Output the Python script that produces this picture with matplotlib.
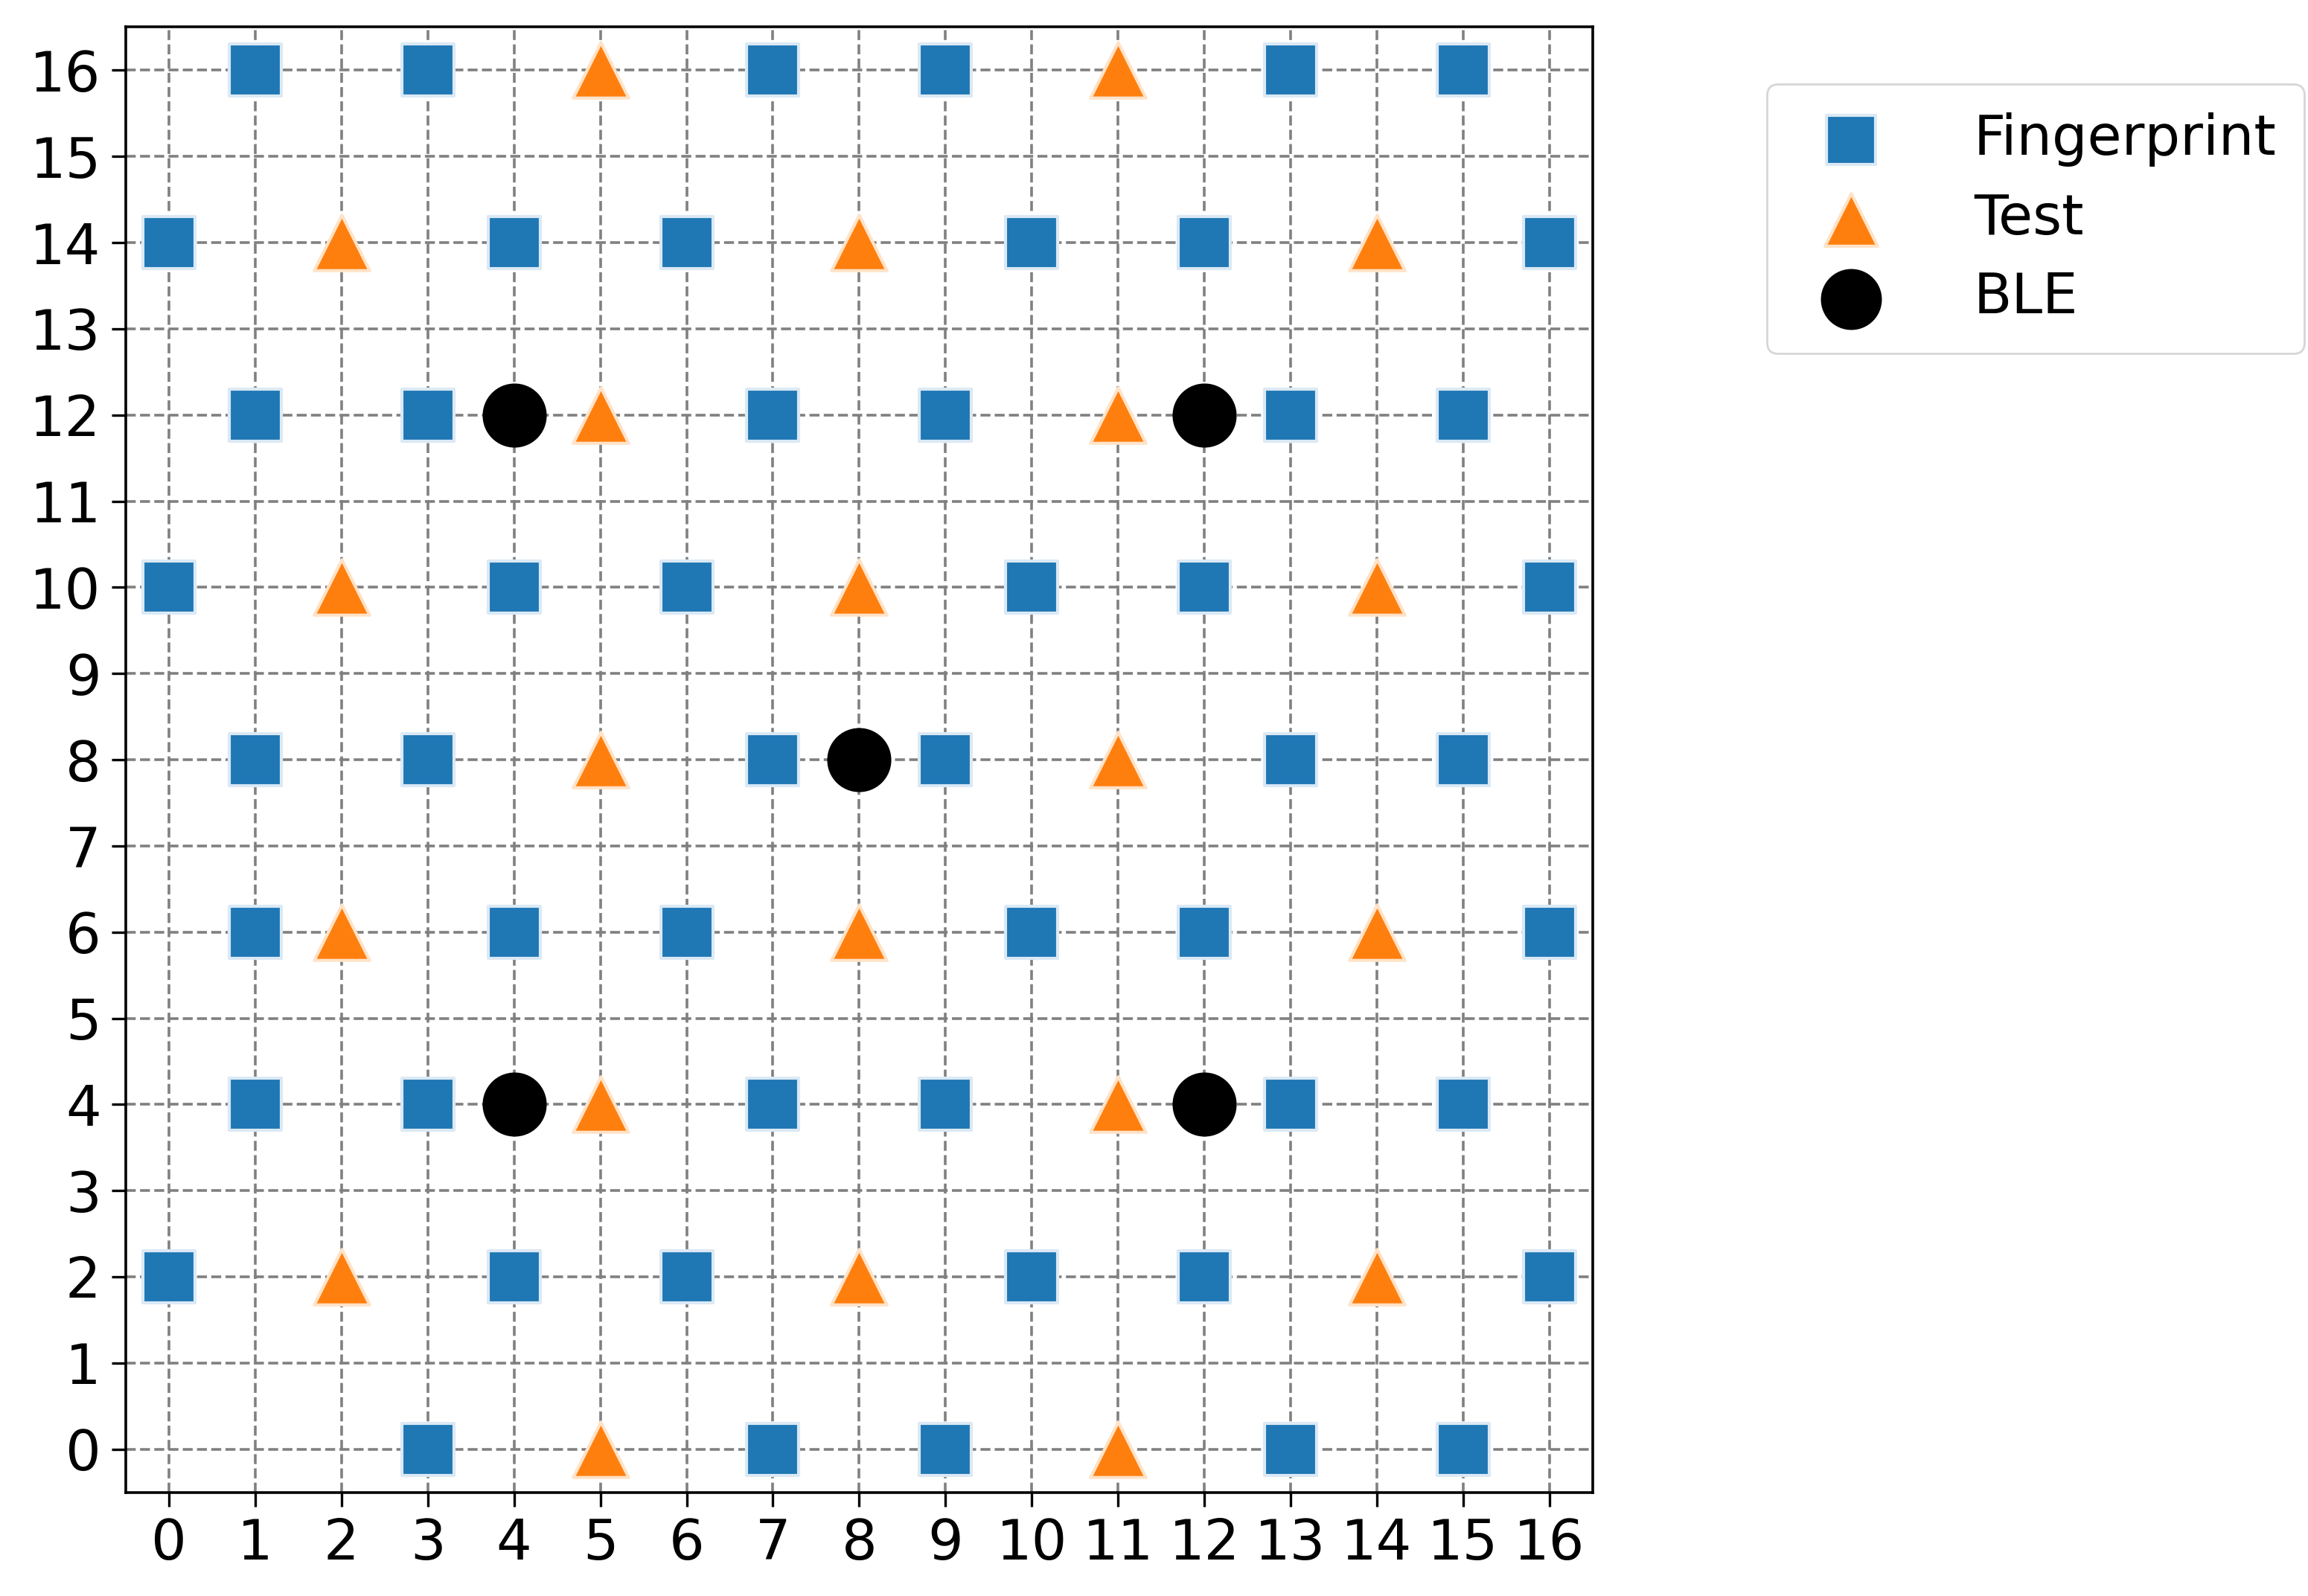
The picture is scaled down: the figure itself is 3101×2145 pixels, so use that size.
import matplotlib
matplotlib.use("Agg")
import matplotlib.pyplot as plt

fp_x = [1, 3, 7, 9, 13, 15,
        0, 4, 6, 10, 12, 16,
        1, 3, 7, 9, 13, 15,
        0, 4, 6, 10, 12, 16,
        1, 3, 7, 9, 13, 15,
        1, 4, 6, 10, 12, 16,
        1, 3, 7, 9, 13, 15,
        0, 4, 6, 10, 12, 16,
        3, 7, 9, 13, 15]
fp_y = [16]*6 + [14]*6 + [12]*6 + [10]*6 + [8]*6 + [6]*6 + [4]*6 + [2]*6 + [0]*5

test_x = [5, 11, 2, 8, 14, 5, 11, 2, 8, 14, 5, 11, 2, 8, 14, 5, 11, 2, 8, 14, 5, 11]
test_y = [16, 16, 14, 14, 14, 12, 12, 10, 10, 10, 8, 8, 6, 6, 6, 4, 4, 2, 2, 2, 0, 0]

ble_x = [4, 12, 8, 4, 12]
ble_y = [12, 12, 8, 4, 4]

fig = plt.figure(figsize=(15.505, 10.725), dpi=200)
ax = fig.add_axes([0.0545, 0.065, 0.6355, 0.918])

ax.scatter(fp_x, fp_y, marker="s", s=620, color="#1f77b4", edgecolors="#dbe9f5",
           linewidths=1.5, label="Fingerprint", zorder=3)
ax.scatter(test_x, test_y, marker="^", s=720, color="#ff7f0e", edgecolors="#ffe3c8",
           linewidths=1.5, label="Test", zorder=3)
ax.scatter(ble_x, ble_y, marker="o", s=900, color="black", label="BLE", zorder=3)

ax.set_xlim(-0.5, 16.5)
ax.set_ylim(-0.5, 16.5)
ax.set_xticks(range(17))
ax.set_yticks(range(17))
ax.tick_params(labelsize=27, length=7, width=1.2, pad=5)
ax.grid(True, linestyle="--", color="gray", linewidth=1.3, zorder=0)
ax.set_axisbelow(True)
for sp in ax.spines.values():
    sp.set_linewidth(1.3)

ax.legend(loc="upper left", bbox_to_anchor=(1.1, 0.98), fontsize=27,
          borderpad=0.5, labelspacing=0.45, handletextpad=1.2, markerscale=0.95)

fig.savefig("out.png", dpi=200)
